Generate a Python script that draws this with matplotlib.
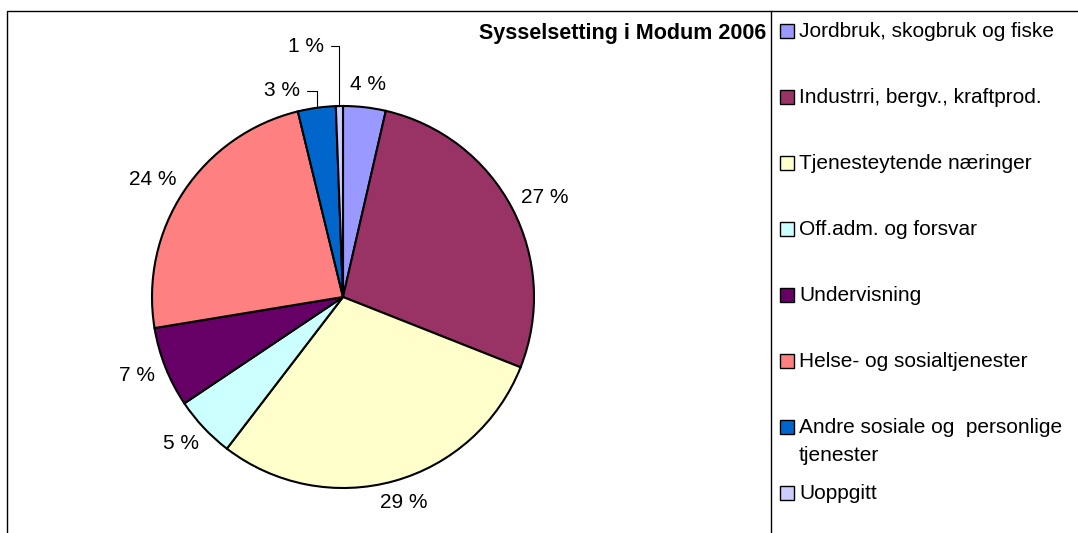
import numpy as np
import matplotlib
matplotlib.use('Agg')
import matplotlib.pyplot as plt
from matplotlib.patches import Rectangle

plt.rcParams['font.family'] = ['Liberation Sans', 'DejaVu Sans']

# data (shares in percent)
categories = ['Jordbruk, skogbruk og fiske', 'Industrri, bergv., kraftprod.',
              'Tjenesteytende næringer', 'Off.adm. og forsvar', 'Undervisning',
              'Helse- og sosialtjenester', 'Andre sosiale og  personlige\ntjenester',
              'Uoppgitt']
shares = [3.6, 27.4, 29.4, 5.2, 6.8, 23.8, 3.2, 0.6]
colors = ['#9999FF', '#993366', '#FFFFCC', '#CCFFFF', '#660066',
          '#FF8080', '#0066CC', '#CCCCFF']
title = 'Sysselsetting i Modum 2006'

W, H = 1078, 533
fig = plt.figure(figsize=(W / 100, H / 100), dpi=100)
ax = fig.add_axes([0, 0, 1, 1])

def py(y):
    # pixel row (top-down) -> data y
    return H - y

cx, cy, R = 343, py(297), 191
wedges, texts, pcts = ax.pie(shares, colors=colors, startangle=90, counterclock=False,
                             center=(cx, cy), radius=R, autopct='%.0f %%',
                             pctdistance=1.17, frame=True,
                             wedgeprops=dict(edgecolor='black', linewidth=1.5),
                             textprops=dict(fontsize=15))
ax.set_xlim(0, W)
ax.set_ylim(0, H)
ax.set_aspect('auto')
ax.axis('off')

# place percent labels just outside the rim, pushed out by half their size
fig.canvas.draw()
gap = 13
for w, t in list(zip(wedges, pcts))[:6]:
    ang = np.deg2rad((w.theta1 + w.theta2) / 2)
    bb = t.get_window_extent()
    dx, dy = np.cos(ang), np.sin(ang)
    t.set_position((cx + dx * (R + gap + bb.width / 2),
                    cy + dy * (R + gap + bb.height / 2)))

# small slices get labels with leader lines
for i, (ox, oy) in zip([6, 7], [(-17, 17), (-15, 60)]):
    w = wedges[i]
    ang = np.deg2rad((w.theta1 + w.theta2) / 2)
    x0 = cx + R * np.cos(ang)
    y0 = cy + R * np.sin(ang)
    pcts[i].set_visible(False)
    ax.annotate(pcts[i].get_text(), xy=(x0, y0), xytext=(x0 + ox, y0 + oy),
                ha='right', va='center', fontsize=15,
                arrowprops=dict(arrowstyle='-', color='black', lw=0.8,
                                connectionstyle='angle,angleA=0,angleB=90,rad=0',
                                shrinkA=3, shrinkB=0))

# frame and separator
ax.plot([7, 7, W], [0, py(11), py(11)], color='black', lw=1)
ax.plot([771, 771], [0, py(11)], color='black', lw=1)

ax.text(766, py(34), title, ha='right', va='center', fontsize=15.5, fontweight='bold')

# legend
for i, (name, c) in enumerate(zip(categories, colors)):
    y = 31 + 66 * i
    ax.add_patch(Rectangle((780, py(y) - 7), 14, 14, facecolor=c, edgecolor='black', lw=1))
    ax.text(799, py(y - 9), name, ha='left', va='top', fontsize=15, linespacing=1.6)

fig.savefig('out.png', dpi=100)
